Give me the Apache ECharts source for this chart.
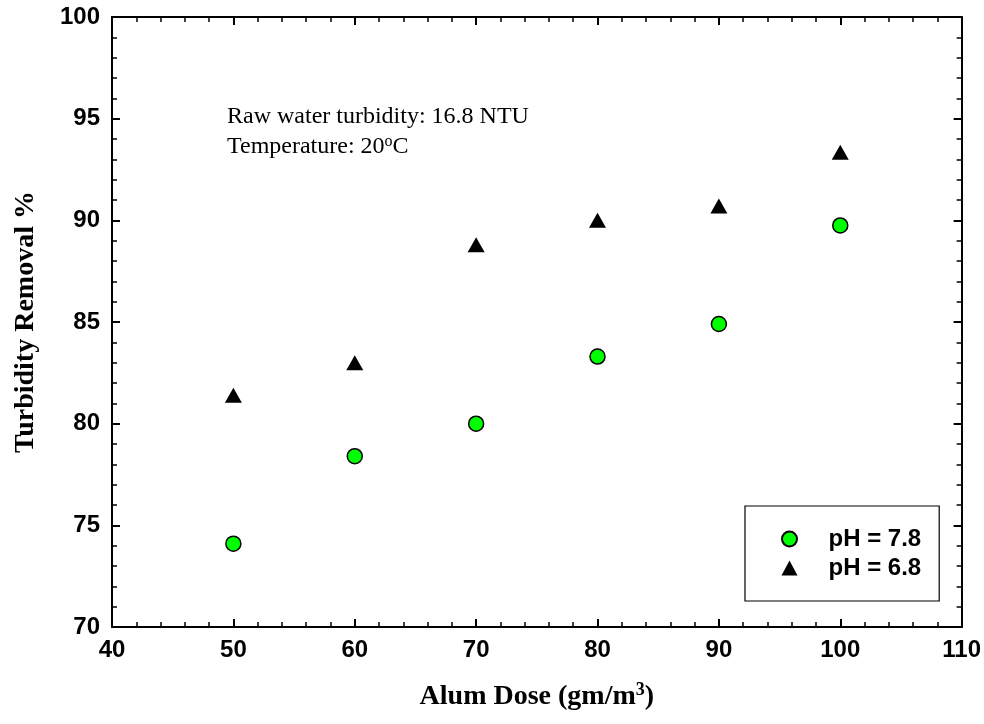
<!DOCTYPE html>
<html>
<head>
<meta charset="utf-8">
<script src="https://cdn.jsdelivr.net/npm/echarts@6/dist/echarts.min.js"></script>
<style>html,body{margin:0;padding:0;background:#fff;}#c{width:984px;height:724px;}</style>
</head>
<body>
<div id="c"></div>
<script>
const doses = [50, 60, 70, 80, 90, 100];
const removalPH78 = [74.1, 78.4, 80.0, 83.3, 84.9, 89.75];
const removalPH68 = [81.4, 83.0, 88.8, 90.0, 90.7, 93.35];
const seriesNames = ['pH = 7.8', 'pH = 6.8'];
const xTicks = {min: 40, max: 110, interval: 10};
const yTicks = {min: 70, max: 100, interval: 5};

const chart = echarts.init(document.getElementById('c'), null, {renderer: 'canvas'});
const labelFont = {fontFamily: 'Liberation Sans, Arial, sans-serif', fontWeight: 'bold', fontSize: 24, color: '#000'};
const titleFont = {fontFamily: 'Liberation Serif, Times New Roman, serif', fontWeight: 'bold', fontSize: 28, color: '#000'};
const lineStyle = {color: '#000', width: 2};

function mkAxis(base, showLabel, pos, extra) {
  return Object.assign({
    type: 'value', min: base.min, max: base.max, interval: base.interval, position: pos,
    axisLine: {show: true, onZero: false, lineStyle: lineStyle},
    axisTick: {show: true, inside: true, length: 8, lineStyle: {color: '#000', width: 2}},
    minorTick: {show: true, splitNumber: 5, length: 5, lineStyle: {color: '#000', width: 1.5}},
    splitLine: {show: false}, minorSplitLine: {show: false},
    axisLabel: Object.assign({show: showLabel}, labelFont)
  }, extra || {});
}

const option = {
  backgroundColor: '#fff',
  animation: false,
  grid: {left: 112, right: 22, top: 17, bottom: 97, containLabel: false},
  xAxis: [
    mkAxis(xTicks, true, 'bottom', {
      name: 'Alum Dose (gm/m{sup|3})', nameLocation: 'middle', nameGap: 54,
      nameTextStyle: Object.assign({}, titleFont, {rich: {sup: Object.assign({}, titleFont, {fontSize: 18, verticalAlign: 'top', padding: [0, 0, 14, 0]})}}),
      axisLabel: Object.assign({show: true, margin: 11}, labelFont)
    }),
    mkAxis(xTicks, false, 'top')
  ],
  yAxis: [
    mkAxis(yTicks, true, 'left', {
      name: 'Turbidity Removal %', nameLocation: 'middle', nameGap: 72, nameRotate: 90,
      nameTextStyle: titleFont,
      axisLabel: Object.assign({show: true, margin: 12}, labelFont)
    }),
    mkAxis(yTicks, false, 'right')
  ],
  legend: {
    orient: 'vertical', left: 745, top: 506,
    padding: [21, 18, 21, 36],
    borderColor: '#000', borderWidth: 1.2, backgroundColor: '#fff',
    itemWidth: 16, itemHeight: 15, itemGap: 5,
    textStyle: Object.assign({}, labelFont, {padding: [0, 0, 0, 26], lineHeight: 20}),
    data: [{name: seriesNames[0], icon: 'circle'}, {name: seriesNames[1], icon: 'triangle'}]
  },
  graphic: [
    {type: 'text', left: 227, top: 105, style: {text: 'Raw water turbidity: 16.8 NTU', font: '24px "Liberation Serif", serif', fill: '#000'}},
    {type: 'text', left: 227, top: 134, style: {
      text: 'Temperature: 20{sup|o}C', font: '24px "Liberation Serif", serif', fill: '#000',
      rich: {sup: {font: '16px "Liberation Serif", serif', fill: '#000', verticalAlign: 'top', padding: [0, 0, 10, 0]}}
    }}
  ],
  series: [
    {
      name: seriesNames[0], type: 'scatter', symbol: 'circle', symbolSize: 15,
      itemStyle: {color: '#00ff00', borderColor: '#000', borderWidth: 1.5, opacity: 1},
      data: doses.map((d, i) => [d, removalPH78[i]])
    },
    {
      name: seriesNames[1], type: 'scatter', symbol: 'triangle', symbolSize: [17, 15],
      itemStyle: {color: '#000', borderColor: '#000', borderWidth: 0, opacity: 1},
      data: doses.map((d, i) => [d, removalPH68[i]])
    }
  ]
};
chart.setOption(option);
</script>
</body>
</html>
